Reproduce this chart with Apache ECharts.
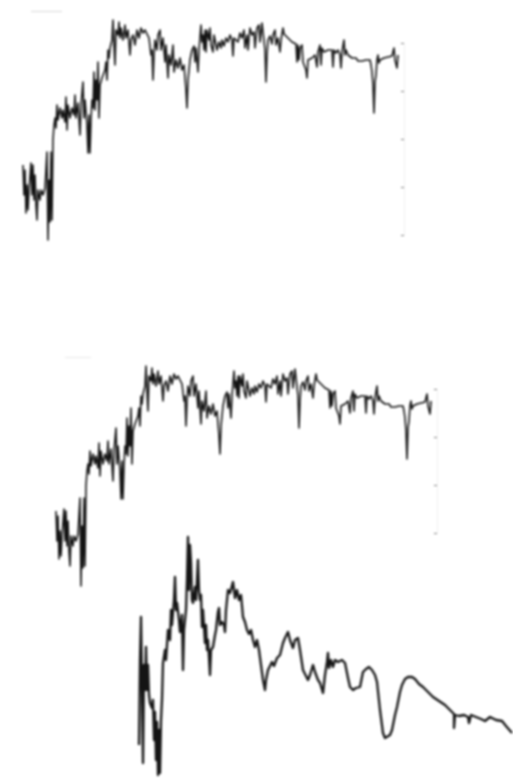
<!DOCTYPE html>
<html><head><meta charset="utf-8">
<style>html,body{margin:0;padding:0;background:#fff}#c{width:513px;height:778px}#c canvas{filter:blur(.95px)}</style>
<script src="https://cdn.jsdelivr.net/npm/echarts@6/dist/echarts.min.js"></script>
</head><body><div id="c"></div>
<script>
const spectrumUpper = [[23,70],[24,40],[25,65],[26,22],[27,50],[28,25],[29,45],[31,72],[32,40],[33,70],[34,35],[35,60],[36,30],[37,15],[38,45],[40,35],[41,45],[43,40],[45,47],[47,83],[48,-5],[49,55],[50,13],[51,83],[52,15],[53,95],[54,110],[55,117],[56,107],[57,130],[58,115],[60,127],[62,117],[63,125],[65,113],[66,138],[67,105],[68,130],[70,117],[72,127],[74,120],[75,140],[76,117],[78,132],[80,100],[81,130],[83,153],[84,117],[85,135],[87,110],[88,82],[89,120],[90,82],[91,115],[92,135],[93,127],[94,163],[95,125],[96,155],[97,135],[98,173],[99,117],[100,150],[102,157],[104,155],[105,165],[106,173],[107,155],[108,185],[109,177],[110,187],[112,195],[113,215],[114,190],[115,170],[116,205],[118,200],[119,213],[120,197],[121,207],[123,195],[125,210],[126,197],[128,205],[130,180],[131,195],[133,200],[135,190],[137,205],[139,197],[141,207],[143,202],[145,205],[147,203],[149,197],[151,180],[152,185],[153,155],[154,180],[155,195],[157,185],[158,200],[160,205],[161,185],[163,197],[165,173],[166,190],[168,157],[169,180],[171,170],[173,190],[174,163],[176,175],[178,167],[180,177],[182,165],[184,170],[185,157],[186,145],[187,127],[188,155],[190,175],[192,185],[194,189],[195,173],[196,187],[198,163],[199,185],[201,210],[202,193],[203,200],[204,185],[205,205],[206,183],[207,205],[209,195],[210,207],[211,190],[213,183],[214,200],[216,202],[217,185],[219,193],[221,187],[222,195],[224,189],[226,197],[228,193],[230,200],[232,195],[233,179],[234,197],[236,199],[238,193],[240,202],[242,197],[244,205],[245,187],[247,200],[248,185],[250,207],[252,200],[254,203],[255,187],[257,207],[259,210],[260,193],[262,212],[264,213],[265,185],[266,153],[267,180],[268,195],[270,199],[272,191],[273,200],[275,205],[276,190],[278,197],[280,183],[281,195],[283,207],[284,201],[286,199],[288,197],[290,195],[292,193],[294,191],[296,191],[297,173],[298,190],[299,175],[300,187],[302,190],[303,173],[305,172],[306,165],[307,157],[308,175],[310,173],[312,177],[314,175],[315,180],[317,168],[318,183],[320,190],[321,170],[322,187],[324,183],[326,185],[328,185],[330,187],[332,185],[333,168],[334,185],[336,182],[338,185],[340,180],[341,167],[342,183],[344,195],[345,180],[346,185],[348,180],[350,178],[352,177],[354,175],[356,177],[358,174],[360,175],[362,174],[364,176],[366,175],[368,177],[370,175],[371,170],[372,163],[373,150],[374,122],[375,153],[376,160],[377,175],[378,180],[379,172],[380,175],[382,176],[384,177],[386,176],[388,178],[390,177],[392,179],[393,183],[394,187],[395,175],[396,177],[397,167],[398,180]];
const spectrumMiddle = spectrumUpper;
const spectrumLower = [[139,33],[140,118],[141,161],[142,88],[143,15],[144,113],[145,88],[146,131],[147,88],[148,113],[149,83],[150,75],[152,70],[153,78],[154,38],[155,66],[156,18],[157,56],[158,3],[159,48],[160,5],[161,58],[162,78],[163,115],[165,128],[166,118],[168,148],[170,138],[171,168],[172,153],[174,178],[175,201],[176,168],[177,175],[179,158],[180,146],[182,163],[183,108],[184,148],[186,168],[187,198],[188,241],[189,188],[190,233],[191,215],[192,178],[193,175],[195,191],[196,178],[198,218],[199,188],[200,178],[201,183],[202,151],[203,168],[205,135],[206,153],[207,128],[208,138],[210,103],[211,128],[213,131],[215,143],[216,148],[218,166],[219,170],[220,153],[222,156],[224,153],[225,146],[226,168],[228,188],[230,185],[233,196],[235,180],[237,188],[239,178],[241,183],[243,161],[245,156],[247,148],[249,144],[251,148],[253,138],[255,131],[257,138],[259,128],[261,113],[263,98],[265,88],[266,98],[268,108],[270,110],[272,116],[274,112],[277,120],[280,123],[283,135],[285,140],[288,146],[290,138],[293,130],[295,138],[298,140],[300,128],[303,108],[305,106],[308,98],[310,103],[313,113],[315,106],[318,98],[320,95],[323,85],[325,103],[327,116],[328,125],[329,110],[331,118],[333,111],[335,118],[338,116],[342,118],[345,115],[348,100],[350,91],[353,88],[356,90],[360,91],[363,106],[366,109],[369,111],[372,108],[375,103],[377,96],[380,68],[383,45],[385,40],[387,38],[390,43],[392,48],[395,63],[397,71],[400,86],[402,93],[405,99],[408,101],[412,101],[415,99],[419,94],[423,91],[428,86],[433,81],[439,77],[445,73],[450,68],[454,64],[454,50],[455,63],[459,62],[464,63],[468,61],[469,55],[471,63],[476,61],[481,59],[485,57],[490,61],[496,58],[502,57],[506,52],[512,45]];

const chart = echarts.init(document.getElementById('c'), null, {renderer:'canvas'});
const hiddenX = (gridIndex,min,max)=>({type:'value',gridIndex,min,max,show:false});
const rightY = (gridIndex,min)=>({type:'value',gridIndex,position:'right',min,max:192,interval:48,
  axisLabel:{show:false},splitLine:{show:false},
  axisLine:{show:true,lineStyle:{color:'#eeeeee',type:'dotted',width:1}},
  axisTick:{show:true,inside:true,length:3,lineStyle:{color:'#808080',width:1}}});
const thin = {color:'#000',width:1.6,opacity:.92,join:'round'};
const line = (i,data,style)=>({type:'line',xAxisIndex:i,yAxisIndex:i,data,showSymbol:false,symbol:'none',
  clip:false,silent:true,animation:false,lineStyle:style});
chart.setOption({
  animation:false,backgroundColor:'#fff',
  grid:[{left:23,top:43,width:381,height:192},{left:56,top:389,width:381,height:144},{left:137,top:530,width:376,height:248}],
  xAxis:[hiddenX(0,23,404),hiddenX(1,23,404),hiddenX(2,137,513)],
  yAxis:[rightY(0,0),rightY(1,48),{type:'value',gridIndex:2,min:0,max:248,show:false}],
  series:[line(0,spectrumUpper,thin),line(1,spectrumMiddle,thin),
    line(2,spectrumLower,{color:'#000',width:2.3,opacity:.92,join:'round'})],
  graphic:[
    {type:'rect',shape:{x:31,y:11,width:31,height:1},style:{fill:'#d8d8d8'},silent:true},
    {type:'rect',shape:{x:65,y:357,width:26,height:1},style:{fill:'#e8e8e8'},silent:true}
  ]
});
</script></body></html>
